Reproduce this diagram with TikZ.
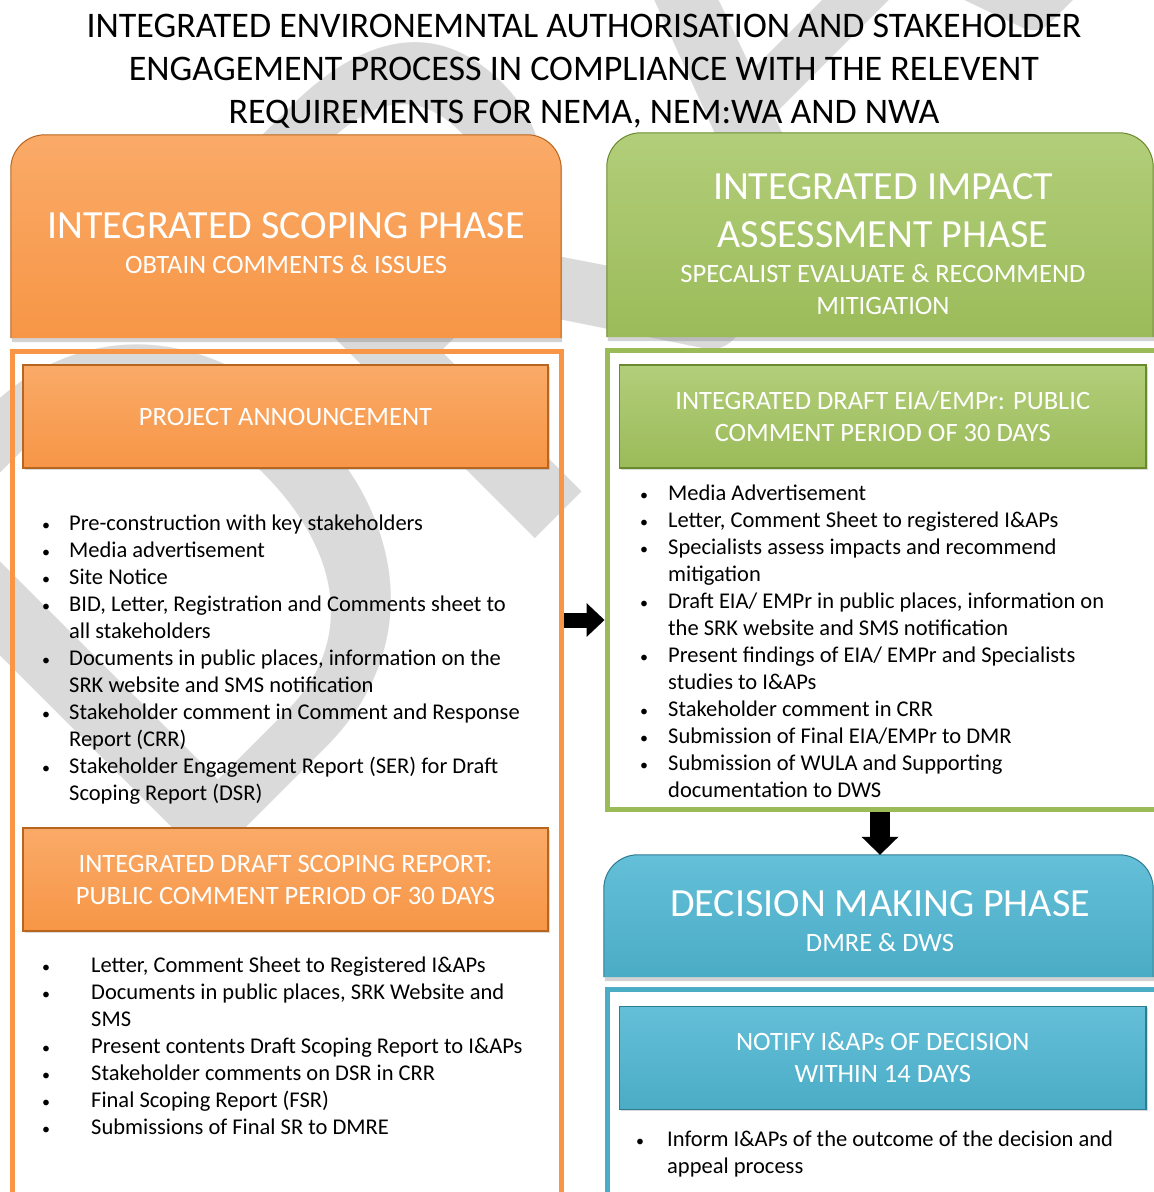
\documentclass[tikz,border=0pt]{standalone}
\usepackage{fontspec}
\setmainfont{Carlito}
\usetikzlibrary{arrows.meta,positioning,shadows}
\definecolor{scope}{HTML}{F79646}
\definecolor{scopehi}{HTML}{FAAA68}
\definecolor{scopelo}{HTML}{B7651F}
\definecolor{impact}{HTML}{9BBB59}
\definecolor{impacthi}{HTML}{B2CE7A}
\definecolor{impactlo}{HTML}{6A8A2E}
\definecolor{decision}{HTML}{4BACC6}
\definecolor{decisionhi}{HTML}{64BFD8}
\definecolor{decisionlo}{HTML}{2D7C92}
\definecolor{markgrey}{HTML}{DADADA}
\pgfdeclarelayer{mark}
\pgfdeclarelayer{plates}
\pgfsetlayers{mark,plates,main}
% bullet line and its continuation line
\newcommand{\blt}[2][27pt]{\makebox[#1][l]{\fontsize{16}{16}\selectfont\textbullet}#2}
\newcommand{\cnt}[2][27pt]{\hspace*{#1}#2}
% phase plate: rounded on top, square at the bottom
\newcommand{\plate}[2]{%
  \begin{pgfonlayer}{plates}
    \path[rounded corners=34pt,top color=#2hi,bottom color=#2,draw=#2lo,line width=1pt,
          drop shadow={shadow xshift=1pt,shadow yshift=-4pt,opacity=0.35}]
      (#1.south west) -- (#1.north west) -- (#1.north east) -- (#1.south east);
  \end{pgfonlayer}}

\begin{document}
\begin{tikzpicture}[x=1pt,y=-1pt,
    font=\fontsize{22.5}{27}\selectfont,
    frame/.style={draw=#1,line width=5pt,inner sep=0pt},
    heading/.style={text=white,align=center,font=\fontsize{40}{35.5}\selectfont},
    stagebox/.style={draw=#1lo,line width=1.5pt,top color=#1hi,bottom color=#1,
                     text=white,align=center,inner sep=0pt,minimum width=525pt,
                     minimum height=103pt,font=\fontsize{26.5}{32}\selectfont,
                     drop shadow={shadow xshift=1.5pt,shadow yshift=-1.5pt,opacity=0.3}},
    items/.style={align=left,anchor=north west,inner sep=0pt},
    push/.style={-{Triangle[width=#1,length=18pt,line width=0pt]},line cap=butt}]

  \useasboundingbox (0,0) rectangle (1154,1192);

  % watermark
  \begin{pgfonlayer}{mark}
    \node[rotate=45,text=markgrey,font=\fontsize{745}{745}\selectfont] (draft) at (711,25) {DRAFT};
  \end{pgfonlayer}

  \node[align=center,font=\fontsize{36}{43}\selectfont] (title) at (584,71)
    {INTEGRATED ENVIRONEMNTAL AUTHORISATION AND STAKEHOLDER\\
     ENGAGEMENT PROCESS IN COMPLIANCE WITH THE RELEVENT\\
     REQUIREMENTS FOR NEMA, NEM:WA AND NWA};

  % scoping column
  \node[inner sep=0pt,minimum width=550pt,minimum height=203pt] (scope) at (286,236.5) {};
  \plate{scope}{scope}
  \node[heading] (scopetxt) at (286,243) {INTEGRATED SCOPING PHASE\\
    {\fontsize{26.5}{32}\selectfont OBTAIN COMMENTS \& ISSUES}};
  \node[frame=scope,minimum width=549pt,minimum height=950pt] (scopeframe) at (287,826) {};
  \node[stagebox=scope] (announce) at (285.5,416.5) {PROJECT ANNOUNCEMENT};
  \node[items] (announcelist) at (42,515) {%
    \blt{Pre-construction with key stakeholders}\\
    \blt{Media advertisement}\\
    \blt{Site Notice}\\
    \blt{BID, Letter, Registration and Comments sheet to}\\
    \cnt{all stakeholders}\\
    \blt{Documents in public places, information on the}\\
    \cnt{SRK website and SMS notification}\\
    \blt{Stakeholder comment in Comment and Response}\\
    \cnt{Report (CRR)}\\
    \blt{Stakeholder Engagement Report (SER) for Draft}\\
    \cnt{Scoping Report (DSR)}};
  \node[stagebox=scope] (dsr) at (285.5,879.5)
    {INTEGRATED DRAFT SCOPING REPORT:\\PUBLIC COMMENT PERIOD OF 30 DAYS};
  \node[items] (dsrlist) at (42,957) {%
    \blt[49pt]{Letter, Comment Sheet to Registered I\&APs}\\
    \blt[49pt]{Documents in public places, SRK Website and}\\
    \cnt[49pt]{SMS}\\
    \blt[49pt]{Present contents Draft Scoping Report to I\&APs}\\
    \blt[49pt]{Stakeholder comments on DSR in CRR}\\
    \blt[49pt]{Final Scoping Report (FSR)}\\
    \blt[49pt]{Submissions of Final SR to DMRE}};

  % impact assessment column
  \node[inner sep=0pt,minimum width=546pt,minimum height=204pt] (impact) at (880,235) {};
  \plate{impact}{impact}
  \node[heading] (impacttxt) at (883,244) {INTEGRATED IMPACT\\[12.5pt]ASSESSMENT PHASE\\
    {\fontsize{26.5}{32}\selectfont SPECALIST EVALUATE \& RECOMMEND}\\[-3.5pt]
    {\fontsize{26.5}{32}\selectfont MITIGATION}};
  \node[frame=impact,minimum width=558pt,minimum height=459pt] (impactframe) at (886,580) {};
  \node[stagebox=impact,minimum width=526.5pt] (eia) at (882.75,416.5)
    {INTEGRATED DRAFT EIA/EMPr: PUBLIC\\COMMENT PERIOD OF 30 DAYS};
  \node[items] (eialist) at (640,485) {%
    \blt[28pt]{Media Advertisement}\\
    \blt[28pt]{Letter, Comment Sheet to registered I\&APs}\\
    \blt[28pt]{Specialists assess impacts and recommend}\\
    \cnt[28pt]{mitigation}\\
    \blt[28pt]{Draft EIA/ EMPr in public places, information on}\\
    \cnt[28pt]{the SRK website and SMS notification}\\
    \blt[28pt]{Present findings of EIA/ EMPr and Specialists}\\
    \cnt[28pt]{studies to I\&APs}\\
    \blt[28pt]{Stakeholder comment in CRR}\\
    \blt[28pt]{Submission of Final EIA/EMPr to DMR}\\
    \blt[28pt]{Submission of WULA and Supporting}\\
    \cnt[28pt]{documentation to DWS}};

  % decision column
  \node[inner sep=0pt,minimum width=549pt,minimum height=122pt] (decision) at (878.5,916) {};
  \plate{decision}{decision}
  \node[heading] (decisiontxt) at (880,921) {DECISION MAKING PHASE\\
    {\fontsize{26.5}{32}\selectfont DMRE \& DWS}};
  \node[frame=decision,minimum width=558pt,minimum height=320pt] (decisionframe) at (886,1149.5) {};
  \node[stagebox=decision,minimum width=526.5pt] (notify) at (882.75,1058)
    {NOTIFY I\&APs OF DECISION\\WITHIN 14 DAYS};
  \node[items] (notifylist) at (636,1131) {%
    \blt[31pt]{Inform I\&APs of the outcome of the decision and}\\
    \cnt[31pt]{appeal process}};

  % hand-over arrows
  \coordinate (handoff) at ([yshift=-40pt]impactframe.west);
  \draw[push=34pt,line width=15pt] (scopeframe.east |- handoff) -- (handoff);
  \draw[push=37pt,line width=20pt] (impactframe.south -| decisiontxt) -- (decision.north -| decisiontxt);
\end{tikzpicture}
\end{document}
